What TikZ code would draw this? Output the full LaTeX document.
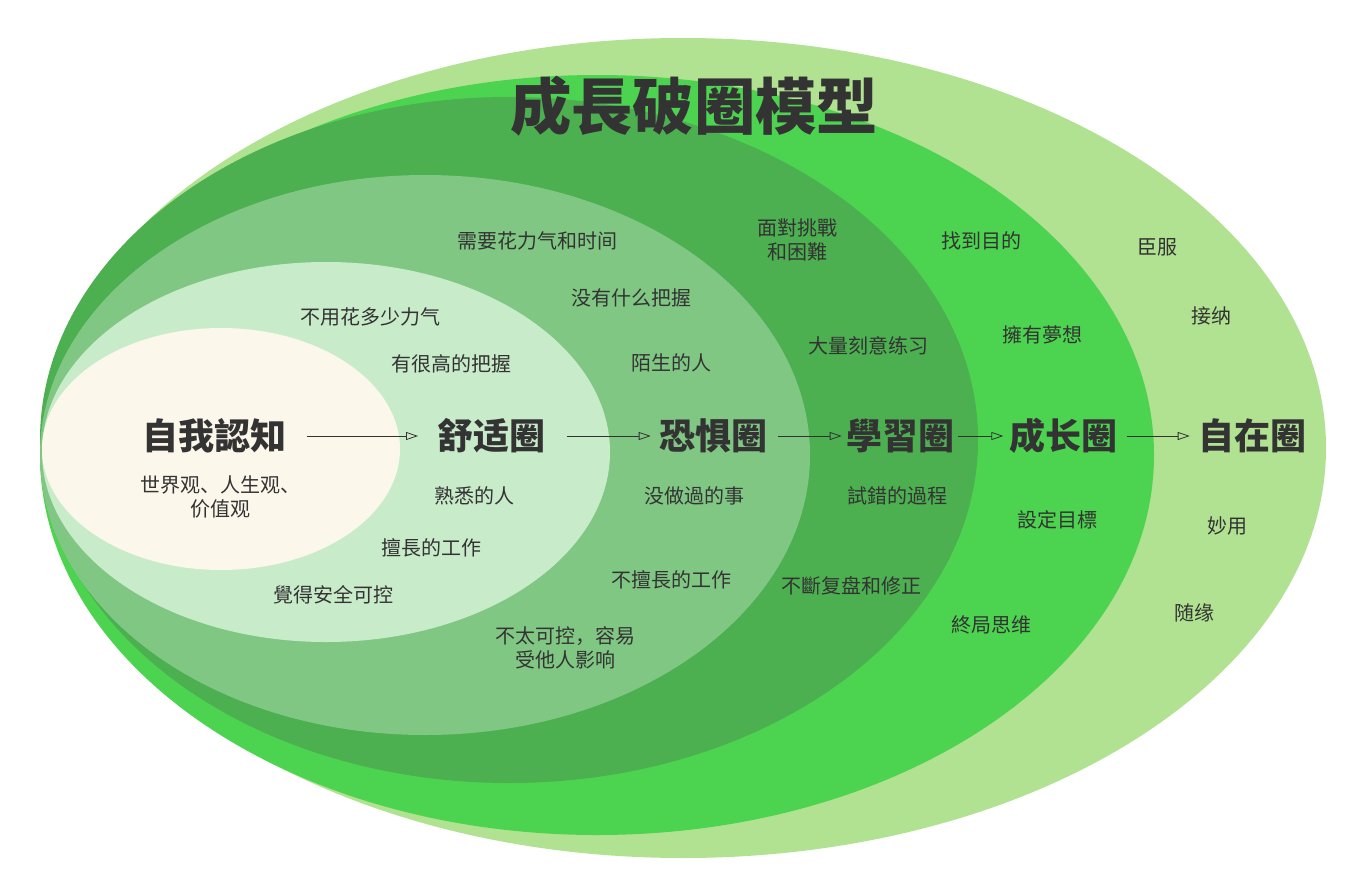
\documentclass[tikz,border=0pt]{standalone}
\usepackage{fontspec}
\newfontfamily\cjk{Noto Sans CJK SC}
\usetikzlibrary{arrows.meta}
\definecolor{c1}{HTML}{B0E291}
\definecolor{c2}{HTML}{4CD34F}
\definecolor{c3}{HTML}{4CAF50}
\definecolor{c4}{HTML}{81C784}
\definecolor{c5}{HTML}{C8EBCA}
\definecolor{c6}{HTML}{FBF7EA}
\definecolor{tx}{HTML}{333333}
\begin{document}
\begin{tikzpicture}[x=0.75pt,y=-0.75pt,
  lab/.style={font=\cjk\fontsize{15}{18}\selectfont,text=tx,align=center},
  big/.style={font=\cjk\bfseries\fontsize{27}{32}\selectfont,text=tx,inner sep=2pt},
  conn/.style={-{Triangle[open,length=9pt,width=6pt]},draw=tx,line width=0.6pt}]
\useasboundingbox (0,0) rectangle (1364,896);
\fill[c1] (683,448) ellipse [x radius=643, y radius=410];
\fill[c2] (597,455) ellipse [x radius=557, y radius=380];
\fill[c3] (509,440) ellipse [x radius=469, y radius=343];
\fill[c4] (425,455) ellipse [x radius=385, y radius=280];
\fill[c5] (326,452) ellipse [x radius=284, y radius=190];
\fill[c6] (221,449) ellipse [x radius=179, y radius=121];
\node[font=\cjk\bfseries\fontsize{46}{52}\selectfont,text=tx] (title) at (694,106) {成長破圈模型};
\node[big] (a) at (214,436) {自我認知};
\node[big] (b) at (491,436) {舒适圈};
\node[big] (c) at (713,436) {恐惧圈};
\node[big] (d) at (900,436) {學習圈};
\node[big] (e) at (1063,436) {成长圈};
\node[big] (f) at (1252,436) {自在圈};
\draw[conn] (a.east)++(18,0) coordinate (a1) (a1) -- ([xshift=-12pt]b.west);
\draw[conn] ([xshift=14pt]b.east) -- ([xshift=-4pt]c.west);
\draw[conn] ([xshift=6pt]c.east) -- ([xshift=-1pt]d.west);
\draw[conn] ([xshift=1pt]d.east) -- ([xshift=-2pt]e.west);
\draw[conn] ([xshift=5pt]e.east) -- ([xshift=-4pt]f.west);
\node[lab] (t1) at (220,497) {世界观、人生观、\\价值观};
\node[lab] (t2) at (370,317) {不用花多少力气};
\node[lab] (t3) at (451,364) {有很高的把握};
\node[lab] (t4) at (474,496) {熟悉的人};
\node[lab] (t5) at (431,548) {擅長的工作};
\node[lab] (t6) at (333,595) {覺得安全可控};
\node[lab] (t7) at (537,241) {需要花力气和时间};
\node[lab] (t8) at (631,298) {没有什么把握};
\node[lab] (t9) at (671,363) {陌生的人};
\node[lab] (t10) at (694,496) {没做過的事};
\node[lab] (t11) at (671,580) {不擅長的工作};
\node[lab] (t12) at (565,648) {不太可控，容易\\受他人影响};
\node[lab] (t13) at (797,240) {面對挑戰\\和困難};
\node[lab] (t14) at (868,346) {大量刻意练习};
\node[lab] (t15) at (897,496) {試錯的過程};
\node[lab] (t16) at (851,586) {不斷复盘和修正};
\node[lab] (t17) at (981,241) {找到目的};
\node[lab] (t18) at (1042,335) {擁有夢想};
\node[lab] (t19) at (1057,520) {設定目標};
\node[lab] (t20) at (991,625) {終局思维};
\node[lab] (t21) at (1157,247) {臣服};
\node[lab] (t22) at (1211,316) {接纳};
\node[lab] (t23) at (1227,526) {妙用};
\node[lab] (t24) at (1194,613) {随缘};
\end{tikzpicture}
\end{document}
